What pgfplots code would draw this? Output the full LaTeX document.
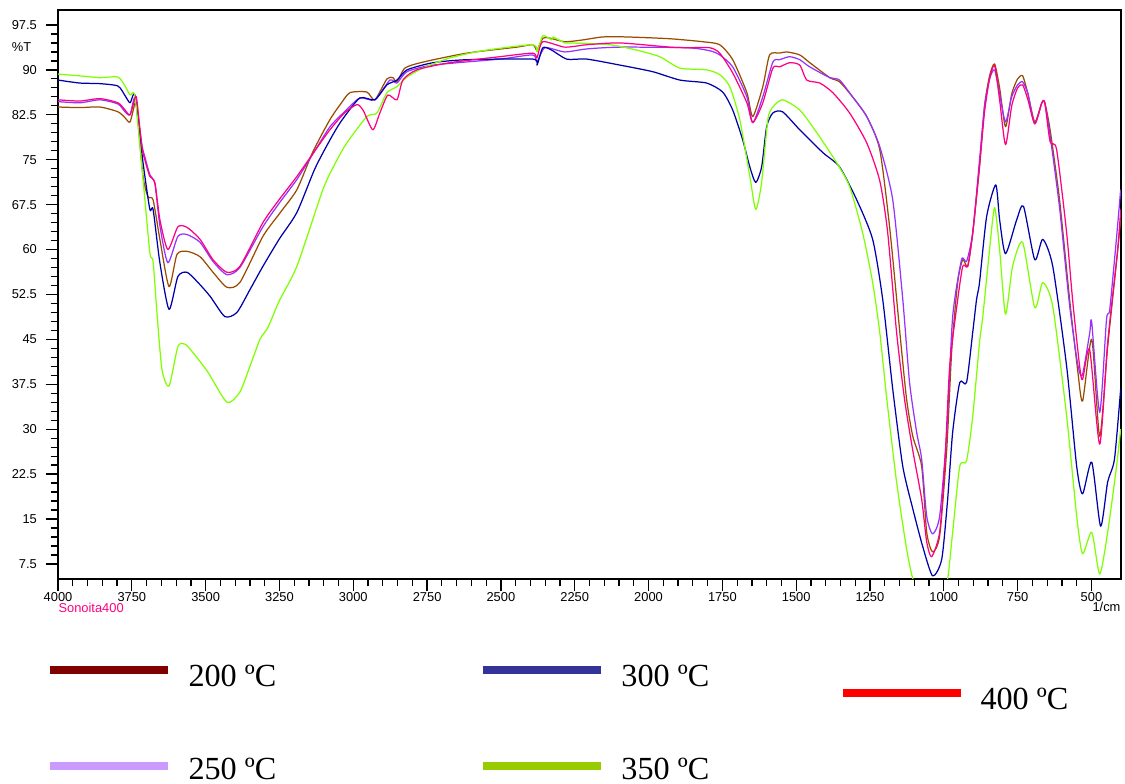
\documentclass[border=0pt]{standalone}
\usepackage{fontspec}
\setmainfont{Liberation Serif}
\newfontfamily\arial{Liberation Sans}
\usepackage{pgfplots}
\pgfplotsset{compat=1.18}

\definecolor{cbrown}{RGB}{153,76,0}
\definecolor{cviolet}{RGB}{150,50,255}
\definecolor{cblue}{RGB}{0,0,170}
\definecolor{cgreen}{RGB}{128,255,0}
\definecolor{cpink}{RGB}{255,0,128}
% legend colours (differ from the traces in the original)
\definecolor{l200}{RGB}{128,0,0}
\definecolor{l250}{RGB}{204,153,255}
\definecolor{l300}{RGB}{51,51,153}
\definecolor{l350}{RGB}{153,204,0}
\definecolor{l400}{RGB}{255,0,0}

\begin{document}
\begin{tikzpicture}
\begin{axis}[
  scale only axis, width=429pt, height=229.6pt,
  x dir=reverse, xmin=400, xmax=4000, ymin=5, ymax=100,
  xtick={500,750,...,4000}, minor x tick num=4,
  ytick={7.5,15,22.5,30,37.5,45,52.5,60,67.5,75,82.5,90,97.5}, minor y tick num=4,
  tick pos=left, tick align=outside,
  major tick length=5pt, minor tick length=3pt,
  every tick/.style={black, line width=0.5pt},
  axis line style={line width=0.5pt},
  tick label style={font=\arial\fontsize{5.2}{6}\selectfont},
  xticklabel style={yshift=3.1pt},
  /pgf/number format/assume math mode=true,
  /pgf/number format/set thousands separator={},
  every axis plot/.append style={line width=0.5pt, line join=round, no markers, smooth, tension=0.4},
  clip mode=individual,
]
% 200 C
\addplot[cbrown] coordinates {
(4000,83.8) (3926,83.7) (3858,83.8) (3797,83.0) (3773,82.0) (3756,81.3) (3739,84.5)
(3733,83.3) (3712,72.2) (3695,68.8) (3678,68.3) (3655,61.7) (3624,53.8) (3597,59.2)
(3563,59.7) (3519,58.8) (3475,56.2) (3428,53.7) (3384,54.5) (3306,62.2) (3250,66.0)
(3191,70.0) (3137,76.3) (3079,81.7) (3040,84.5) (3011,86.2) (2954,86.3) (2927,85.0) (2886,88.5)
(2866,88.7) (2852,88.0) (2825,90.3) (2764,91.3) (2615,92.8) (2446,93.8) (2392,94.2)
(2378,93.3) (2358,95.3) (2334,95.3) (2284,94.7) (2223,95.0) (2155,95.5) (2074,95.5)
(1928,95.2) (1816,94.7) (1759,94.2) (1715,91.7) (1667,86.2) (1647,82.2) (1613,87.2)
(1590,92.5) (1556,92.8) (1532,93.0) (1488,92.5) (1454,91.2) (1386,88.7) (1353,88.0)
(1309,85.5) (1261,82.2) (1217,76.7) (1183,63.5) (1149,46.2) (1126,35.0) (1105,28.8)
(1075,23.8) (1058,12.8) (1038,9.5) (1014,12.2) (990,26.7) (973,43.3) (953,54.5)
(936,58.3) (919,57.2) (902,62.8) (879,73.8) (862,84.0) (845,89.0) (828,91.0)
(811,87.0) (791,80.5) (770,86.0) (750,88.5) (733,89.0) (715,86.0) (692,81.3)
(668,84.5) (658,84.5) (640,80.0) (608,68.3) (574,51.7) (547,40.0) (530,34.7)
(499,45.0) (472,28.8) (445,43.8) (415,58.0) (401,65.0)
};
% 250 C
\addplot[cviolet] coordinates {
(4000,84.7) (3926,84.5) (3858,85.0) (3797,84.3) (3773,83.0) (3756,82.5) (3739,85.3)
(3716,77.5) (3706,75.5) (3689,72.5) (3672,71.0) (3655,64.0) (3628,57.8) (3594,62.2)
(3563,62.5) (3519,61.2) (3475,58.0) (3428,55.8) (3384,57.0) (3306,63.8) (3250,67.8)
(3191,71.7) (3130,76.5) (3079,80.5) (3030,83.0) (2978,85.3) (2927,85.0) (2876,88.3) (2852,87.8)
(2818,89.7) (2730,90.8) (2504,91.8) (2392,92.5) (2378,91.3) (2351,93.7) (2284,93.0)
(2209,93.5) (2097,93.8) (1870,93.7) (1793,93.2) (1759,92.5) (1715,90.5) (1667,85.5)
(1647,81.2) (1613,85.5) (1579,91.3) (1556,91.7) (1522,92.2) (1488,91.7) (1454,90.5)
(1386,88.7) (1353,88.3) (1309,85.5) (1261,82.2) (1217,77.2) (1173,68.3) (1139,51.7)
(1116,37.8) (1092,29.5) (1075,25.0) (1058,15.5) (1038,12.5) (1014,15.5) (990,29.5)
(970,48.8) (940,58.3) (923,58.0) (902,62.8) (879,75.0) (862,84.0) (845,88.5)
(828,90.0) (811,86.0) (791,81.3) (770,85.5) (750,87.5) (733,88.0) (715,86.0)
(692,81.0) (668,84.5) (658,84.5) (640,79.0) (608,67.0) (574,50.7) (547,41.0)
(531,39.0) (506,46.0) (499,47.8) (472,32.8) (449,48.3) (438,50.0) (415,62.0) (401,70.0)
};
% 300 C
\addplot[cblue] coordinates {
(4000,88.3) (3926,87.8) (3858,87.7) (3797,87.3) (3773,85.7) (3756,84.5) (3739,85.7)
(3712,74.5) (3689,66.7) (3678,66.7) (3655,57.8) (3624,50.0) (3594,55.5) (3563,56.2)
(3526,54.5) (3485,52.2) (3435,48.8) (3394,49.5) (3350,53.3) (3306,57.2) (3250,61.8)
(3191,66.2) (3130,73.5) (3079,78.3) (3040,81.5) (2978,85.3) (2927,85.0) (2886,87.5) (2852,88.3)
(2818,90.0) (2730,91.2) (2615,91.7) (2392,91.8) (2378,90.8) (2358,93.7) (2328,93.3)
(2277,91.8) (2209,91.8) (2097,90.8) (1986,89.7) (1894,88.3) (1803,87.8) (1749,86.3)
(1715,83.3) (1681,78.3) (1657,73.8) (1637,71.2) (1617,73.8) (1600,80.5) (1579,82.8)
(1546,83.0) (1488,80.0) (1410,76.2) (1353,73.8) (1295,68.3) (1241,61.7) (1207,51.7)
(1173,36.7) (1139,23.8) (1105,16.7) (1072,10.5) (1038,5.5) (1007,8.3) (987,18.3)
(970,29.5) (946,37.8) (923,37.8) (902,46.2) (889,51.7) (879,54.5) (855,65.5)
(824,70.8) (811,65.0) (791,59.3) (753,65.0) (730,67.2) (692,58.3) (665,61.7)
(631,57.2) (584,40.5) (550,23.8) (530,19.2) (499,24.5) (469,13.8) (445,21.2)
(422,25.0) (401,36.7)
};
% 350 C
\addplot[cgreen] coordinates {
(4000,89.3) (3926,89.0) (3858,88.7) (3797,88.8) (3773,87.3) (3756,85.8) (3739,85.5)
(3712,71.7) (3689,59.5) (3678,58.0) (3665,49.5) (3648,40.0) (3624,37.2) (3594,43.8)
(3570,44.2) (3543,42.8) (3492,39.5) (3428,34.5) (3384,36.2) (3350,40.5) (3316,45.0)
(3289,47.0) (3250,51.5) (3191,57.2) (3103,70.0) (3060,74.5) (3022,77.8) (2954,82.2) (2920,82.8)
(2886,86.2) (2852,87.2) (2818,88.8) (2764,90.3) (2673,92.0) (2561,93.2) (2392,94.2)
(2378,93.0) (2358,95.7) (2328,95.0) (2324,95.5) (2284,94.5) (2267,94.5) (2131,94.2)
(2040,93.3) (1962,92.2) (1894,90.3) (1803,90.0) (1759,89.2) (1725,87.2) (1691,81.7)
(1657,72.2) (1637,66.7) (1617,71.2) (1596,81.7) (1579,83.8) (1546,85.0) (1488,83.3)
(1430,79.5) (1363,74.5) (1319,70.5) (1275,62.8) (1241,54.5) (1217,46.2) (1193,35.0)
(1160,21.2) (1126,10.0) (1105,5.0) (1080,2.0) (1045,0.5) (1010,2.0) (987,5.0)
(970,12.8) (946,23.8) (923,24.7) (902,32.2) (879,44.5) (868,48.8) (845,60.0)
(828,67.0) (811,60.0) (791,49.2) (767,57.2) (733,61.2) (692,50.3) (665,54.5)
(631,50.5) (584,32.2) (550,15.5) (530,9.2) (499,12.8) (472,5.8) (445,12.8)
(415,23.8) (401,30.0)
};
% 400 C
\addplot[cpink] coordinates {
(4000,85.0) (3926,84.8) (3858,85.2) (3797,84.5) (3773,83.3) (3756,82.5) (3739,85.3)
(3733,85.0) (3716,77.2) (3706,75.0) (3689,72.2) (3672,71.2) (3655,65.0) (3628,60.0)
(3594,63.8) (3563,63.7) (3519,61.7) (3475,58.3) (3428,56.2) (3384,57.2) (3306,64.5)
(3250,68.4) (3191,72.2) (3130,76.5) (3079,80.0) (3030,82.8) (2988,84.2) (2967,83.3) (2934,80.0)
(2910,82.8) (2883,85.8) (2852,85.0) (2832,88.3) (2785,90.0) (2673,91.2) (2504,92.2)
(2392,92.8) (2378,92.0) (2358,94.7) (2284,93.8) (2209,94.2) (2097,94.5) (1928,93.8)
(1870,93.7) (1793,93.7) (1759,92.8) (1715,89.5) (1667,84.5) (1647,81.2) (1613,84.5)
(1579,90.3) (1556,90.5) (1522,91.2) (1488,90.8) (1464,88.3) (1420,87.8) (1376,86.2)
(1319,82.8) (1261,77.8) (1217,71.5) (1190,62.8) (1160,46.2) (1133,35.0) (1106,26.7)
(1075,18.3) (1058,11.2) (1041,8.7) (1014,12.8) (997,23.8) (980,40.5) (956,50.5)
(936,57.2) (919,57.2) (902,62.8) (879,74.0) (862,83.0) (845,88.5) (828,90.7)
(811,85.0) (791,77.5) (770,84.0) (750,87.0) (733,87.5) (715,85.0) (692,81.0)
(668,84.5) (658,84.5) (640,78.0) (618,76.7) (584,62.8) (564,51.7) (540,40.5)
(530,38.3) (506,43.3) (472,27.5) (445,44.5) (411,60.0) (401,66.7)
};
% texts around the frame
\node[font=\arial\fontsize{5.2}{6}\selectfont, anchor=east] at (rel axis cs:-0.017,0.934) {\%T};
\node[font=\arial\fontsize{5.2}{6}\selectfont, anchor=north east, inner sep=0pt] at (rel axis cs:1.0,-0.040) {1/cm};
\node[font=\arial\fontsize{5.2}{6}\selectfont, text=cpink, anchor=north west, inner sep=0pt] at (rel axis cs:0.0,-0.042) {Sonoita400};
% legend
\draw[l200, line width=3.2pt] (rel axis cs:-0.0075,-0.160) -- (rel axis cs:0.1035,-0.160);
\node[anchor=base west, inner sep=0pt, font=\fontsize{13}{15}\selectfont] at (rel axis cs:0.1223,-0.190) {200 ºC};
\draw[l300, line width=3.2pt] (rel axis cs:0.3998,-0.160) -- (rel axis cs:0.5108,-0.160);
\node[anchor=base west, inner sep=0pt, font=\fontsize{13}{15}\selectfont] at (rel axis cs:0.5296,-0.190) {300 ºC};
\draw[l400, line width=3.2pt] (rel axis cs:0.7385,-0.2004) -- (rel axis cs:0.8495,-0.2004);
\node[anchor=base west, inner sep=0pt, font=\fontsize{13}{15}\selectfont] at (rel axis cs:0.8674,-0.230) {400 ºC};
\draw[l250, line width=3.2pt] (rel axis cs:-0.0075,-0.3286) -- (rel axis cs:0.1035,-0.3286);
\node[anchor=base west, inner sep=0pt, font=\fontsize{13}{15}\selectfont] at (rel axis cs:0.1223,-0.353) {250 ºC};
\draw[l350, line width=3.2pt] (rel axis cs:0.3998,-0.3286) -- (rel axis cs:0.5108,-0.3286);
\node[anchor=base west, inner sep=0pt, font=\fontsize{13}{15}\selectfont] at (rel axis cs:0.5296,-0.353) {350 ºC};
\coordinate (tl) at (rel axis cs:-0.0546,1.0176);
\coordinate (br) at (rel axis cs:1.0038,-0.3603);
\end{axis}
\pgfresetboundingbox
\useasboundingbox (tl) rectangle (br);
\end{tikzpicture}
\end{document}
